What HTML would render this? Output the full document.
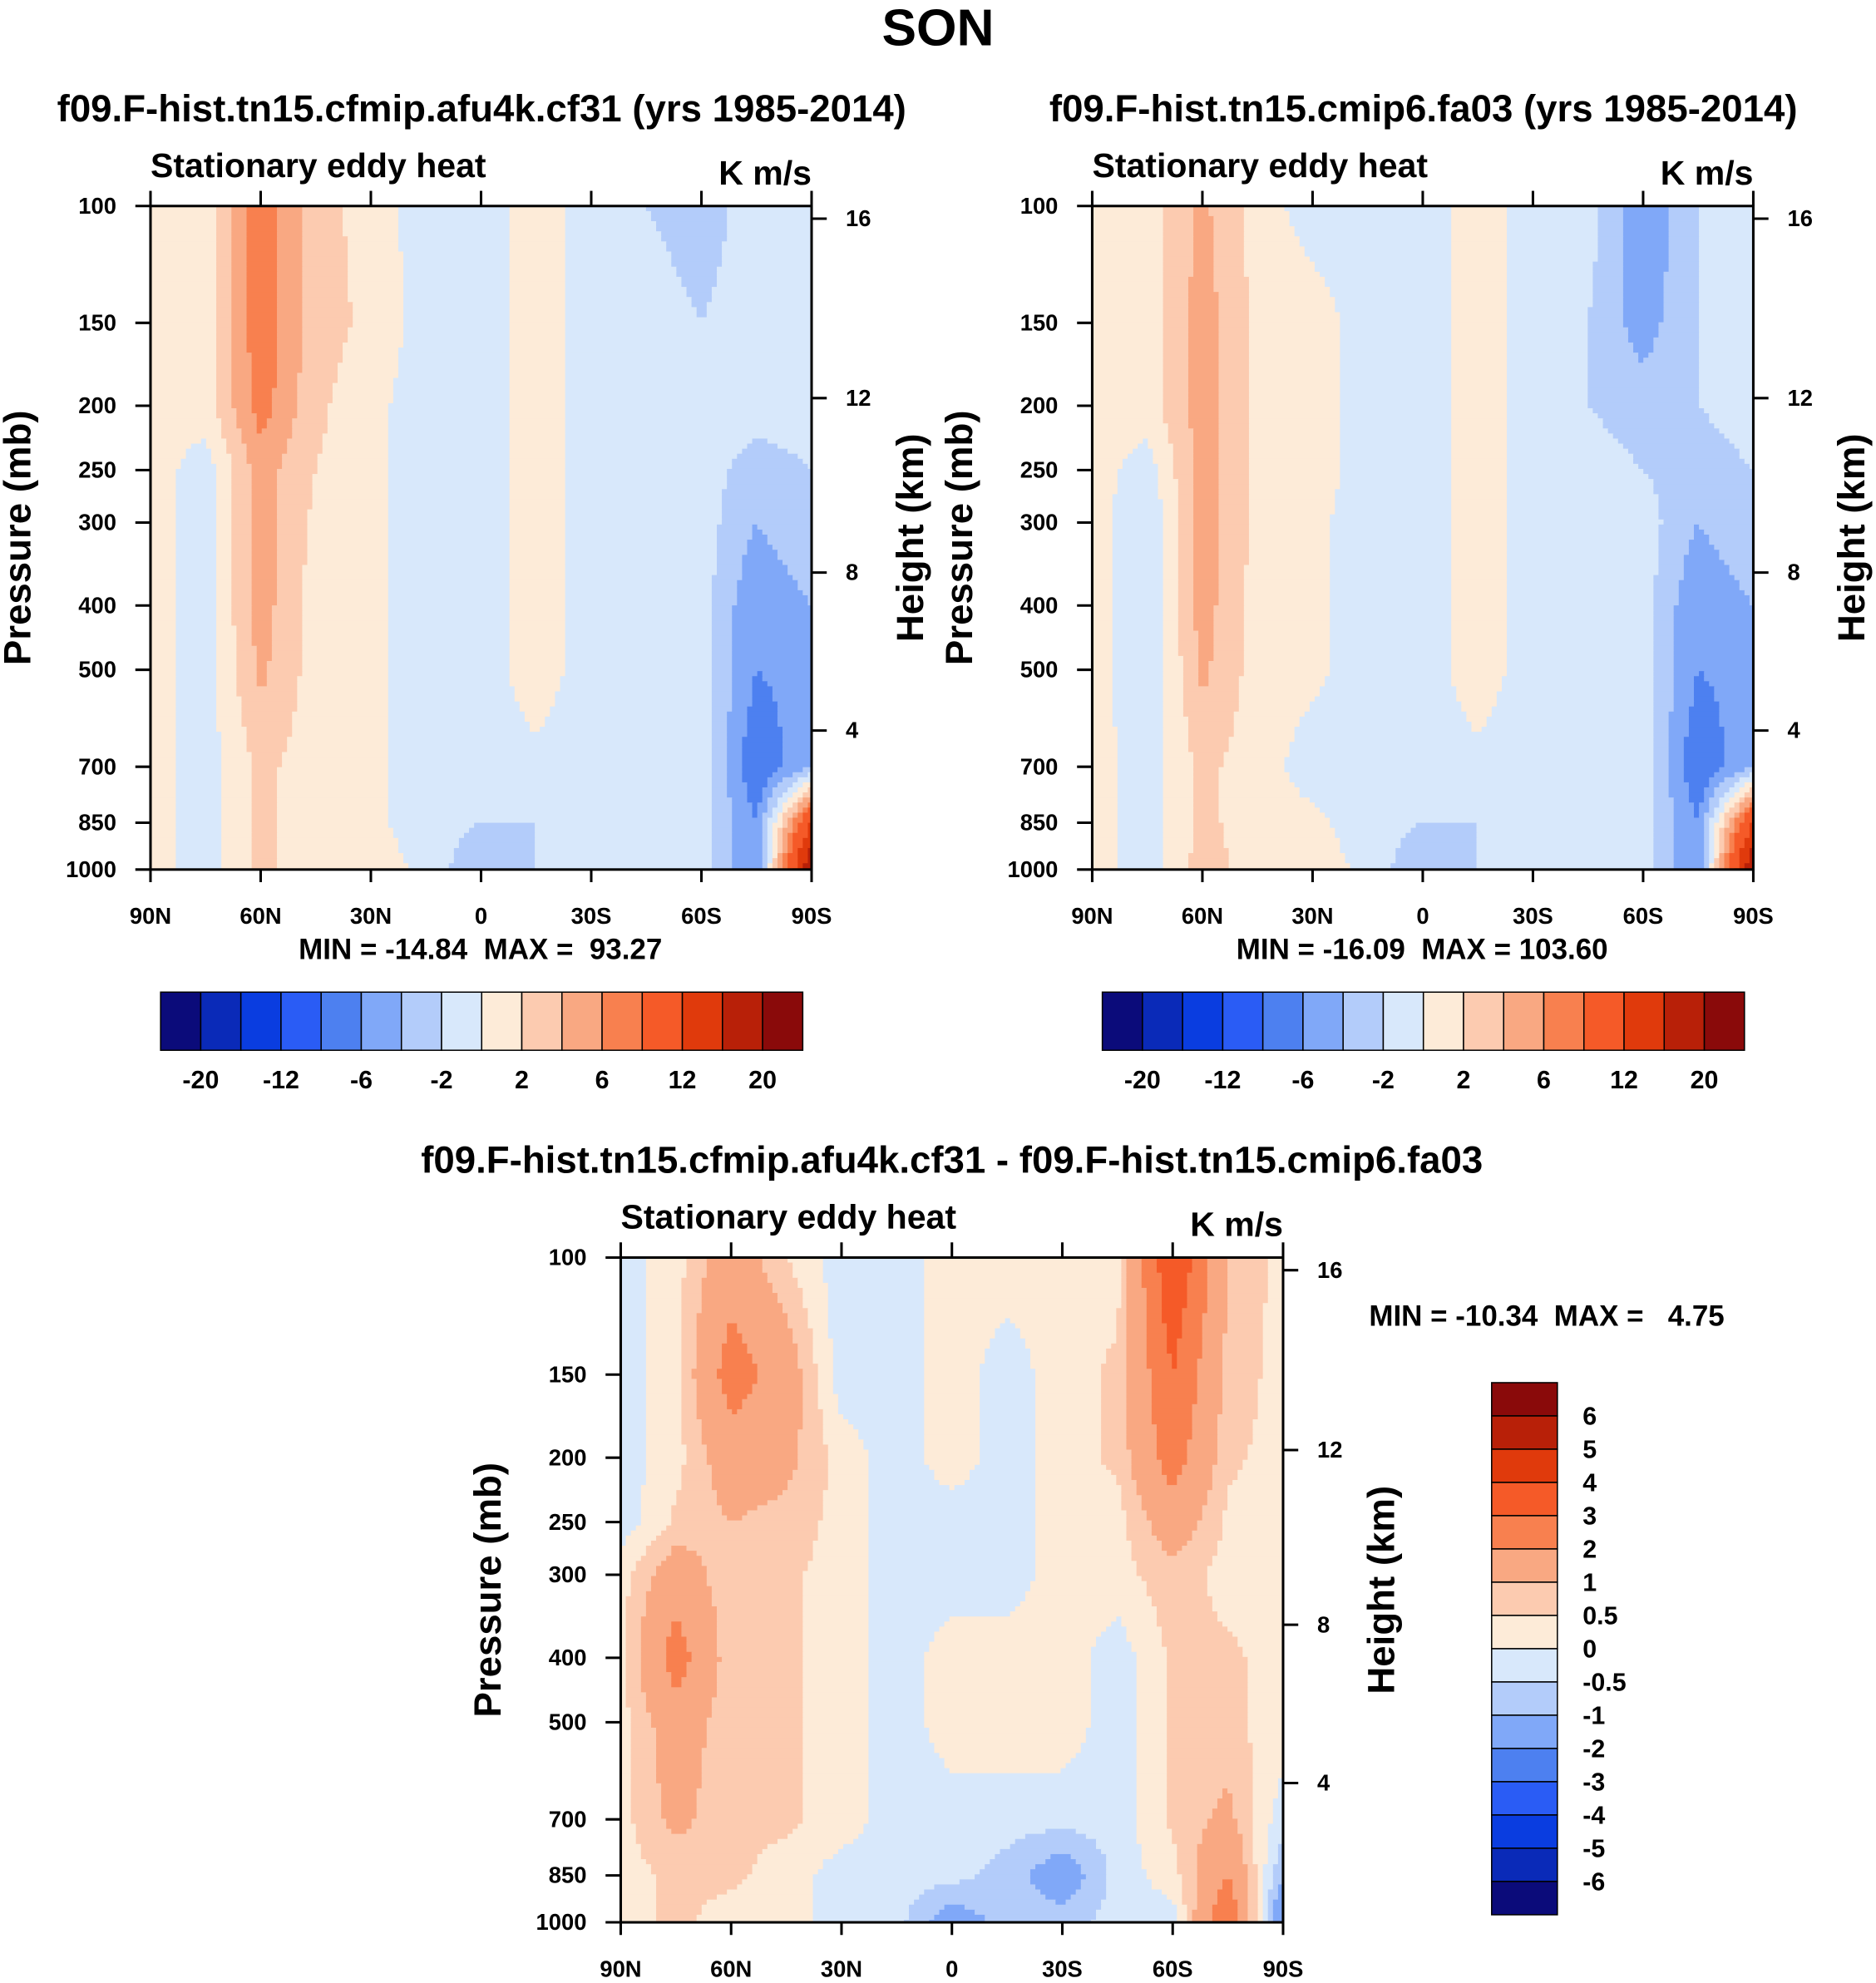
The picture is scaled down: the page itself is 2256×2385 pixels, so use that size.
<!DOCTYPE html>
<html><head><meta charset="utf-8">
<style>
html,body{margin:0;padding:0;background:#fff;}
svg{display:block;font-family:"Liberation Sans",Helvetica,Arial,sans-serif;font-weight:bold;}
svg text{white-space:pre;}
</style></head>
<body>
<svg id="fig" width="2256" height="2385" viewBox="0 0 1484 1569" xmlns="http://www.w3.org/2000/svg">
<rect x="0" y="0" width="1484" height="1569" fill="#fff"/>
<text x="742" y="36" font-size="41" text-anchor="middle">SON</text>
<g id="layer"></g>
</svg>
<script>
const lats = ["90N","75N","60N","45N","30N","15N","0","15S","30S","45S","60S","75S","90S"];
const pLevels = [100,150,200,250,300,400,500,700,850,1000];
const pTicks = [100,150,200,250,300,400,500,700,850,1000];
const latTickLabels = ["90N","60N","30N","0","30S","60S","90S"];
const hTicks = [16,12,8,4];
const hTickY = [173,315,453,578];
const levelsAbs = [-20,-16,-12,-8,-6,-4,-2,0,2,4,6,8,12,16,20];
const levelsDiff = [-6,-5,-4,-3,-2,-1,-0.5,0,0.5,1,2,3,4,5,6];
const cbLabelsAbs = ["-20","-12","-6","-2","2","6","12","20"];
const cbLabelsDiff = ["6","5","4","3","2","1","0.5","0","-0.5","-1","-2","-3","-4","-5","-6"];
const colors = ["#0b0b7a","#0a2ab8","#0a3de0","#2a5cf5","#4d80f0","#80a8f8","#b3ccfa","#d8e8fb","#fdebd8","#fccbb0","#f9a882","#f8804f","#f55a28","#e03a0c","#b82008","#8a0a0a"];
const data1 = [
[1,1,7.5,3,1,-1,-1,1,-1,-2,-3,-1,-1],
[1,1,7.5,3,1.5,-1,-1,1,-1,-1,-2,-1,-1],
[0.5,1,7,2.5,0.5,-1,-1,1,-1,-1,-1,-1,-1],
[1,-1,5,2,0.5,-1,-1,1,-1,-1,-1,-3,-2],
[1,-1,5,1.5,0.5,-1,-1,1,-1,-1,-1,-4,-2],
[1,-1,5,1,0.5,-1,-1,1,-1,-1,-1,-6,-4],
[1,-1,4.5,1,0.5,-1,-1,1,-1,-1,-1,-6,-5],
[1,-1,2.5,1,0.5,-1,-1,-0.5,-1,-1,-1,-8,-4],
[1,-1,2.5,1,0.5,-1,-2,-2,-1,-1,-1,-6,12],
[1,-1,2.5,1,1,-0.5,-4,-2,-1,-1,-1,-6,20]];
const data2 = [
[1,1,4.5,1,-1,-1,-1,1,-1,-1,-6,-2,-1],
[1,1,5,1.5,1,-1,-1,1,-1,-2,-5,-2,-1],
[1,1,5,1.5,1,-1,-1,1,-1,-2,-3,-2,-1],
[1,-1,5,1.5,1,-1,-1,1,-1,-1,-2,-3,-2],
[1,-2,5,1.5,0.5,-1,-1,1,-1,-1,-1,-4,-2],
[1,-2,5,1,0.5,-1,-1,1,-1,-1,-1,-6,-4],
[1,-2,4.5,1,0.5,-1,-1,1,-1,-1,-1,-6,-5],
[1,-1,2.5,1,-1,-1,-1,-0.5,-1,-1,-1,-8,-4],
[1,-1,2.5,1,0.5,-1,-2,-2,-1,-1,-1,-6,12],
[1,-1,3,1,1,-0.5,-4,-2,-1,-1,-1,-6,20]];
const data3 = [
[-0.3,0.3,1.5,0.5,-0.3,-0.3,0.3,0.3,0.3,0.3,4,1,0.3],
[-0.3,0.3,2.5,1.5,-0.3,-0.3,0.3,-0.3,0.3,0.6,3,0.8,0.3],
[-0.3,0.3,1.5,1.2,0.3,-0.3,0.3,-0.3,0.3,0.6,2.5,0.6,0.3],
[-0.3,0.6,1,0.8,0.3,-0.3,-0.3,-0.3,0.3,0.3,1.5,0.4,0.3],
[0.3,1.5,0.6,0.6,0.3,-0.3,-0.3,-0.3,0.3,0.3,0.8,0.3,0.3],
[0.3,2.5,0.6,0.6,0.3,-0.3,0.3,0.3,0.3,-0.3,0.6,0.6,0.3],
[0.3,1.5,0.6,0.6,0.3,-0.3,0.3,0.3,0.3,-0.3,0.6,0.6,0.3],
[0.3,1.2,0.6,0.6,0.3,-0.3,-0.3,-0.3,-0.3,-0.3,0.6,1.2,-0.3],
[0.3,0.6,0.6,0.3,-0.3,-0.3,-0.3,-0.7,-1.5,-0.3,0.3,2,-1],
[0.3,0.6,0.3,0.3,-0.3,-0.3,-1.5,-0.7,-0.7,-0.3,-0.3,3,-2]];

const NS="http://www.w3.org/2000/svg";
const layer=document.getElementById('layer');
function mk(tag,attrs,parent,txt){const e=document.createElementNS(NS,tag);for(const k in attrs)e.setAttribute(k,attrs[k]);if(txt!==undefined)e.textContent=txt;(parent||layer).appendChild(e);return e;}
function classOf(v,lev){let c=0;for(const b of lev)if(b<v)c++;return c;}

function panel(cfg){
  const {x0,y0,w,h,data,lev,name}=cfg;
  const g=mk('g',{});
  
  
  const xS=lat=>x0+lat/12*w;
  const yS=p=>y0+(Math.log10(p)-2)*h;
  const logs=pLevels.map(p=>Math.log10(p));
  const step=4;
  for(let yy=0;yy<h;yy+=step){
    const lp=2+(yy+step/2)/h;
    let j=0;while(j<logs.length-2&&logs[j+1]<lp)j++;
    let fy=(lp-logs[j])/(logs[j+1]-logs[j]);fy=Math.max(0,Math.min(1,fy));
    let runStart=0,runCol=null;
    const flush=(end)=>{const r=mk('rect',{x:x0+runStart,y:y0+yy,width:Math.min(end,w)-runStart+0.6,height:Math.min(step,h-yy)+0.6,fill:runCol},g);
      
      };
    for(let xx=0;xx<w;xx+=step){
      const u=(xx+step/2)/w*12;let i=Math.min(11,Math.floor(u));const fx=u-i;
      const v=(1-fy)*((1-fx)*data[j][i]+fx*data[j][i+1])+fy*((1-fx)*data[j+1][i]+fx*data[j+1][i+1]);
      const col=colors[classOf(v,lev)];
      if(col!==runCol){if(runCol!==null)flush(xx);runStart=xx;runCol=col;}
    }
    flush(w);
  }
  mk('rect',{x:x0,y:y0,width:w,height:h,fill:'none',stroke:'#000','stroke-width':2},g);
  pTicks.forEach(p=>{const y=yS(p);
    mk('line',{x1:x0-12,x2:x0,y1:y,y2:y,stroke:'#000','stroke-width':2},g);
    const t=mk('text',{x:x0-27,y:y+6,'font-size':18,'text-anchor':'end'},g,String(p));
    });
  hTicks.forEach((hv,k)=>{const y=y0+(hTickY[k]-163)*h/525;
    mk('line',{x1:x0+w,x2:x0+w+12,y1:y,y2:y,stroke:'#000','stroke-width':2},g);
    const t=mk('text',{x:x0+w+27,y:y+6,'font-size':18},g,String(hv));
    });
  latTickLabels.forEach((l,k)=>{const x=xS(k*2);
    mk('line',{x1:x,x2:x,y1:y0,y2:y0-12,stroke:'#000','stroke-width':2},g);
    mk('line',{x1:x,x2:x,y1:y0+h,y2:y0+h+10,stroke:'#000','stroke-width':2},g);
    const t=mk('text',{x:x,y:y0+h+43,'font-size':18,'text-anchor':'middle'},g,l);
    });
  const a=mk('text',{x:x0,y:y0-23,'font-size':27},g,'Stationary eddy heat');
  
  const b=mk('text',{x:x0+w,y:y0-17,'font-size':27,'text-anchor':'end'},g,'K m/s');
  
  const c=mk('text',{x:0,y:0,'font-size':30,'text-anchor':'middle',transform:`translate(${x0-95},${y0+h*0.5}) rotate(-90)`},g,'Pressure (mb)');
  
  const d=mk('text',{x:0,y:0,'font-size':30,'text-anchor':'middle',transform:`translate(${x0+w+88},${y0+h*0.5}) rotate(-90)`},g,'Height (km)');
  
  const e=mk('text',{x:cfg.tx,y:cfg.ty,'font-size':30,'text-anchor':'middle'},g,cfg.title);
  
}
panel({x0:119,y0:163,w:523,h:525,data:data1,lev:levelsAbs,name:'panel-cfmip',tx:381,ty:96,title:'f09.F-hist.tn15.cfmip.afu4k.cf31 (yrs 1985-2014)'});
panel({x0:864,y0:163,w:523,h:525,data:data2,lev:levelsAbs,name:'panel-cmip6',tx:1126,ty:96,title:'f09.F-hist.tn15.cmip6.fa03 (yrs 1985-2014)'});
panel({x0:491,y0:995,w:524,h:526,data:data3,lev:levelsDiff,name:'panel-difference',tx:753,ty:928,title:'f09.F-hist.tn15.cfmip.afu4k.cf31 - f09.F-hist.tn15.cmip6.fa03'});

function minmax(x,y,txt,anchor){const t=mk('text',{x:x,y:y,'font-size':23,'text-anchor':anchor},layer,txt);
  }
minmax(380,759,'MIN = -14.84  MAX =  93.27','middle');
minmax(1125,759,'MIN = -16.09  MAX = 103.60','middle');
minmax(1083,1049,'MIN = -10.34  MAX =   4.75','start');

function hbar(x0){const g=mk('g',{});
  
  const bw=508/16;
  colors.forEach((c,i)=>{const r=mk('rect',{x:x0+i*bw,y:785,width:bw,height:46,fill:c,stroke:'#000','stroke-width':1},g);
    });
  cbLabelsAbs.forEach((l,k)=>{const t=mk('text',{x:x0+(1+2*k)*bw,y:861,'font-size':20,'text-anchor':'middle'},g,l);
    });
}
hbar(127);hbar(872);
(function(){const g=mk('g',{});
  
  const bh=421/16;
  colors.slice().reverse().forEach((c,i)=>{const r=mk('rect',{x:1180,y:1094+i*bh,width:52,height:bh,fill:c,stroke:'#000','stroke-width':1},g);
    });
  cbLabelsDiff.forEach((l,k)=>{const t=mk('text',{x:1252,y:1094+(k+1)*bh+7,'font-size':20},g,l);
    });
})();
</script>
</body></html>
